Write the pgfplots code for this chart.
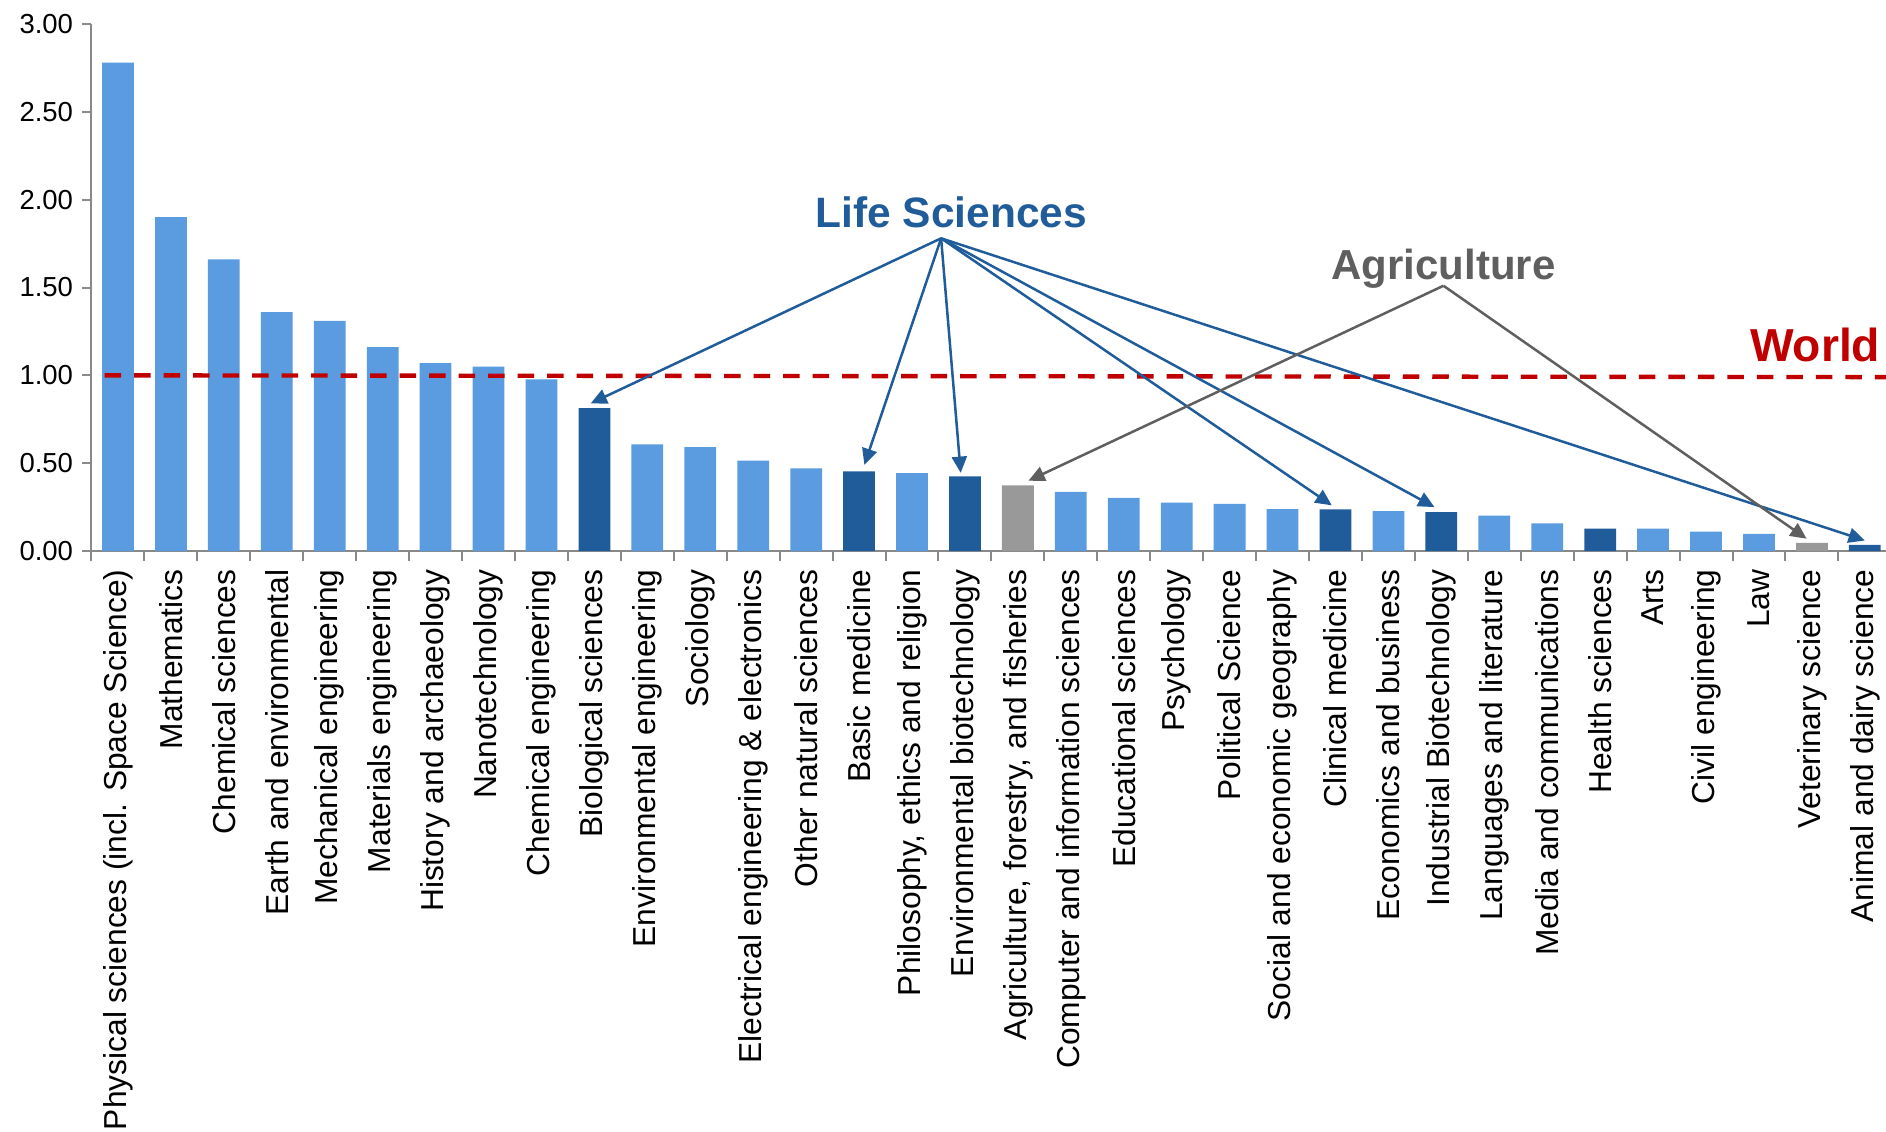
\documentclass[border=0pt]{standalone}
\usepackage{pgfplots}
\pgfplotsset{compat=1.18}
\usepackage{pgfplotstable}
\usepackage{fontspec}
\setmainfont{Liberation Sans}
\usetikzlibrary{arrows.meta}
\definecolor{lightb}{HTML}{5B9BDF}
\definecolor{darkb}{HTML}{1F5C99}
\definecolor{grayb}{HTML}{999999}
\definecolor{worldred}{HTML}{C00000}
\definecolor{axgray}{HTML}{898989}
\definecolor{aggray}{HTML}{5F5F5F}

\pgfplotstableread{
x y
0 2.78
1 1.90
2 1.66
3 1.36
4 1.31
5 1.16
6 1.07
7 1.05
8 0.977
10 0.607
11 0.592
12 0.515
13 0.471
15 0.443
18 0.337
19 0.303
20 0.276
21 0.268
22 0.239
24 0.227
26 0.202
27 0.157
29 0.128
30 0.111
31 0.097
}\lightdata
\pgfplotstableread{
x y
9 0.813
14 0.454
16 0.425
23 0.237
25 0.221
28 0.128
33 0.035
}\darkdata
\pgfplotstableread{
x y
17 0.374
32 0.047
}\graydata

\begin{document}
\begin{tikzpicture}
\begin{axis}[
  scale only axis,
  width=717.8pt, height=210.8pt,
  xmin=-0.5, xmax=33.4, ymin=0, ymax=3,
  enlargelimits=false,
  clip=false,
  axis lines*=left,
  axis line style={axgray, line width=0.8pt},
  tick align=outside,
  tick style={axgray, line width=0.8pt},
  major tick length=3.85pt,
  minor tick length=3.85pt,
  ytick={0,0.5,1,1.5,2,2.5,3},
  yticklabel style={font=\fontsize{11}{12}\selectfont,
    /pgf/number format/.cd, fixed, fixed zerofill, precision=2, assume math mode=true},
  xtick={0,...,33},
  major x tick style={draw=none},
  minor xtick={-0.5,0.5,...,32.5},
  xticklabel style={rotate=90, anchor=east, font=\fontsize{12.7}{14}\selectfont},
  xticklabels={
    Physical sciences (incl. Space Science),
    Mathematics,
    Chemical sciences,
    Earth and environmental,
    Mechanical engineering,
    Materials engineering,
    History and archaeology,
    Nanotechnology,
    Chemical engineering,
    Biological sciences,
    Environmental engineering,
    Sociology,
    Electrical engineering \& electronics,
    Other natural sciences,
    Basic medicine,
    {Philosophy, ethics and religion},
    Environmental biotechnology,
    {Agriculture, forestry, and fisheries},
    Computer and information sciences,
    Educational sciences,
    Psychology,
    Political Science,
    Social and economic geography,
    Clinical medicine,
    Economics and business,
    Industrial Biotechnology,
    Languages and literature,
    Media and communications,
    Health sciences,
    Arts,
    Civil engineering,
    Law,
    Veterinary science,
    Animal and dairy science},
]
\addplot[ybar, bar width=0.6, bar shift=0pt, fill=lightb, draw=none] table {\lightdata};
\addplot[ybar, bar width=0.6, bar shift=0pt, fill=darkb, draw=none] table {\darkdata};
\addplot[ybar, bar width=0.6, bar shift=0pt, fill=grayb, draw=none] table {\graydata};

\draw[worldred, line width=1.75pt, dash pattern=on 6.6pt off 5.2pt] (axis cs:-0.25,1.0) -- (axis cs:33.4,0.99);
\node[font=\bfseries\fontsize{18.5}{20}\selectfont, text=worldred, anchor=base east, inner sep=0pt] at (axis cs:33.3,1.08) {World};

\node[font=\bfseries\fontsize{17}{19}\selectfont, text=darkb] at (axis cs:15.74,1.93) {Life Sciences};
\begin{scope}[darkb, line width=1pt, -{Triangle[length=6.5pt,width=6pt]}]
\draw (axis cs:15.55,1.78) -- (axis cs:8.93,0.84);
\draw (axis cs:15.55,1.78) -- (axis cs:14.1,0.49);
\draw (axis cs:15.55,1.78) -- (axis cs:15.92,0.445);
\draw (axis cs:15.55,1.78) -- (axis cs:22.93,0.26);
\draw (axis cs:15.55,1.78) -- (axis cs:24.87,0.25);
\draw (axis cs:15.55,1.78) -- (axis cs:33.0,0.06);
\end{scope}

\node[font=\bfseries\fontsize{16.8}{19}\selectfont, text=aggray] at (axis cs:25.04,1.605) {Agriculture};
\begin{scope}[aggray, line width=1pt, -{Triangle[length=6.5pt,width=6pt]}]
\draw (axis cs:25.04,1.51) -- (axis cs:17.2,0.40);
\draw (axis cs:25.04,1.51) -- (axis cs:31.9,0.07);
\end{scope}
\end{axis}
\pgfresetboundingbox
\path[use as bounding box] (-36.6pt,-232pt) rectangle (717.8pt,220.4pt);
\end{tikzpicture}
\end{document}
